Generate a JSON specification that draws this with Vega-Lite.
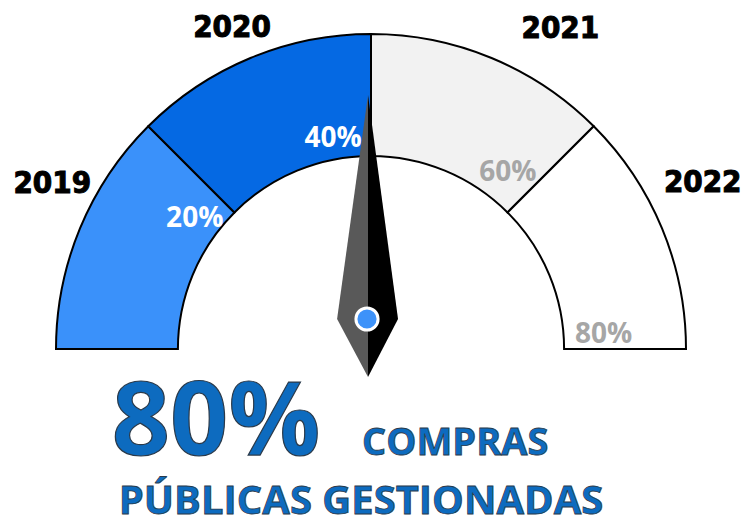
{
  "$schema": "https://vega.github.io/schema/vega-lite/v6.json",
  "width": 745,
  "height": 525,
  "autosize": {"type": "fit", "contains": "padding"},
  "padding": 0,
  "background": "white",
  "config": {"view": {"stroke": null}},
  "datasets": {
    "segments": [
      {"year": "2019", "pct": "20%", "start": 0, "end": 1},
      {"year": "2020", "pct": "40%", "start": 1, "end": 2},
      {"year": "2021", "pct": "60%", "start": 2, "end": 3},
      {"year": "2022", "pct": "80%", "start": 3, "end": 4}
    ],
    "needle": [{"value": 2}],
    "kpi": [{"value": "80%", "line1": "COMPRAS", "line2": "PÚBLICAS GESTIONADAS"}]
  },
  "encoding": {
    "x": {"datum": 0, "type": "quantitative", "scale": {"domain": [-1.1778, 1.1873], "nice": false, "zero": false}, "axis": null},
    "y": {"datum": 0, "type": "quantitative", "scale": {"domain": [-0.5587, 1.1079], "nice": false, "zero": false}, "axis": null}
  },
  "layer": [
    {
      "data": {"name": "segments"},
      "mark": {"type": "arc", "stroke": "black", "strokeWidth": 2},
      "encoding": {
        "theta": {"field": "start", "type": "quantitative", "stack": null, "scale": {"type": "linear", "domain": [0, 4], "range": [-1.5708, 1.5708]}},
        "theta2": {"field": "end"},
        "radius": {"datum": 1, "type": "quantitative", "scale": {"type": "linear", "domain": [0, 1], "range": [0, 315], "zero": true}},
        "radius2": {"datum": 0.613},
        "color": {"field": "year", "type": "nominal", "legend": null, "scale": {"domain": ["2019", "2020", "2021", "2022"], "range": ["#3a91fa", "#0569e3", "#f2f2f2", "#ffffff"]}}
      }
    },
    {
      "data": {"name": "segments"},
      "transform": [{"filter": "datum.year == '2019'"}],
      "mark": {"type": "text", "font": "DejaVu Sans Condensed", "fontWeight": "bold", "fontSize": 31, "fill": "black", "stroke": "black", "strokeWidth": 1, "align": "center", "baseline": "middle", "thetaOffset": 0.478, "radiusOffset": 44},
      "encoding": {"theta": {"field": "start", "type": "quantitative"}, "radius": {"datum": 1, "type": "quantitative"}, "text": {"field": "year"}}
    },
    {
      "data": {"name": "segments"},
      "transform": [{"filter": "datum.year == '2020'"}],
      "mark": {"type": "text", "font": "DejaVu Sans Condensed", "fontWeight": "bold", "fontSize": 31, "fill": "black", "stroke": "black", "strokeWidth": 1, "align": "center", "baseline": "middle", "thetaOffset": 0.377, "radiusOffset": 35},
      "encoding": {"theta": {"field": "start", "type": "quantitative"}, "radius": {"datum": 1, "type": "quantitative"}, "text": {"field": "year"}}
    },
    {
      "data": {"name": "segments"},
      "transform": [{"filter": "datum.year == '2021'"}],
      "mark": {"type": "text", "font": "DejaVu Sans Condensed", "fontWeight": "bold", "fontSize": 31, "fill": "black", "stroke": "black", "strokeWidth": 1, "align": "center", "baseline": "middle", "thetaOffset": 0.534, "radiusOffset": 57},
      "encoding": {"theta": {"field": "start", "type": "quantitative"}, "radius": {"datum": 1, "type": "quantitative"}, "text": {"field": "year"}}
    },
    {
      "data": {"name": "segments"},
      "transform": [{"filter": "datum.year == '2022'"}],
      "mark": {"type": "text", "font": "DejaVu Sans Condensed", "fontWeight": "bold", "fontSize": 31, "fill": "black", "stroke": "black", "strokeWidth": 1, "align": "center", "baseline": "middle", "thetaOffset": 0.321, "radiusOffset": 56},
      "encoding": {"theta": {"field": "start", "type": "quantitative"}, "radius": {"datum": 1, "type": "quantitative"}, "text": {"field": "year"}}
    },
    {
      "data": {"name": "segments"},
      "transform": [{"filter": "datum.year == '2019'"}],
      "mark": {"type": "text", "font": "Open Sans", "fontWeight": "bold", "fontSize": 28, "fill": "white", "align": "center", "baseline": "middle", "thetaOffset": -0.150, "radiusOffset": -96},
      "encoding": {"theta": {"field": "end", "type": "quantitative"}, "radius": {"datum": 1, "type": "quantitative"}, "text": {"field": "pct"}}
    },
    {
      "data": {"name": "segments"},
      "transform": [{"filter": "datum.year == '2020'"}],
      "mark": {"type": "text", "font": "Open Sans", "fontWeight": "bold", "fontSize": 28, "fill": "white", "align": "center", "baseline": "middle", "thetaOffset": -0.179, "radiusOffset": -102},
      "encoding": {"theta": {"field": "end", "type": "quantitative"}, "radius": {"datum": 1, "type": "quantitative"}, "text": {"field": "pct"}}
    },
    {
      "data": {"name": "segments"},
      "transform": [{"filter": "datum.year == '2021'"}],
      "mark": {"type": "text", "font": "Open Sans", "fontWeight": "bold", "fontSize": 28, "fill": "#a6a6a6", "align": "center", "baseline": "middle", "thetaOffset": -0.124, "radiusOffset": -92},
      "encoding": {"theta": {"field": "end", "type": "quantitative"}, "radius": {"datum": 1, "type": "quantitative"}, "text": {"field": "pct"}}
    },
    {
      "data": {"name": "segments"},
      "transform": [{"filter": "datum.year == '2022'"}],
      "mark": {"type": "text", "font": "Open Sans", "fontWeight": "bold", "fontSize": 28, "fill": "#a6a6a6", "align": "center", "baseline": "middle", "thetaOffset": -0.059, "radiusOffset": -82},
      "encoding": {"theta": {"field": "end", "type": "quantitative"}, "radius": {"datum": 1, "type": "quantitative"}, "text": {"field": "pct"}}
    },
    {
      "data": {"name": "needle"},
      "mark": {"type": "point", "shape": "M0,-1L-0.138,0L0,0.259Z", "filled": true, "fill": "#595959", "strokeWidth": 0, "opacity": 1, "size": 200704},
      "encoding": {
        "x": {"datum": -0.0095, "type": "quantitative"},
        "y": {"datum": 0.0952, "type": "quantitative"},
        "angle": {"field": "value", "type": "quantitative", "scale": {"domain": [0, 4], "range": [-90, 90]}}
      }
    },
    {
      "data": {"name": "needle"},
      "mark": {"type": "point", "shape": "M0,-1L0.134,0L0,0.259Z", "filled": true, "fill": "#000000", "strokeWidth": 0, "opacity": 1, "size": 200704},
      "encoding": {
        "x": {"datum": -0.0095, "type": "quantitative"},
        "y": {"datum": 0.0952, "type": "quantitative"},
        "angle": {"field": "value", "type": "quantitative"}
      }
    },
    {
      "data": {"name": "needle"},
      "mark": {"type": "point", "shape": "circle", "filled": true, "fill": "#3d92f9", "stroke": "white", "strokeWidth": 3, "opacity": 1, "size": 491},
      "encoding": {
        "x": {"datum": -0.0127, "type": "quantitative"},
        "y": {"datum": 0.0952, "type": "quantitative"}
      }
    },
    {
      "data": {"name": "kpi"},
      "mark": {"type": "text", "font": "Open Sans", "fontWeight": "bold", "fontSize": 102, "fill": "#0d6bbf", "stroke": "#2b3a4a", "strokeWidth": 1.2, "align": "center", "baseline": "alphabetic"},
      "encoding": {
        "x": {"datum": -0.492, "type": "quantitative"},
        "y": {"datum": -0.3365, "type": "quantitative"},
        "text": {"field": "value"}
      }
    },
    {
      "data": {"name": "kpi"},
      "mark": {"type": "text", "font": "Open Sans", "fontWeight": "bold", "fontSize": 38, "fill": "#0d6bbf", "stroke": "#2b3a4a", "strokeWidth": 0.8, "align": "left", "baseline": "alphabetic"},
      "encoding": {
        "x": {"datum": -0.0286, "type": "quantitative"},
        "y": {"datum": -0.3365, "type": "quantitative"},
        "text": {"field": "line1"}
      }
    },
    {
      "data": {"name": "kpi"},
      "mark": {"type": "text", "font": "Open Sans", "fontWeight": "bold", "fontSize": 40, "fill": "#0d6bbf", "stroke": "#2b3a4a", "strokeWidth": 0.8, "align": "center", "baseline": "alphabetic"},
      "encoding": {
        "x": {"datum": -0.0317, "type": "quantitative"},
        "y": {"datum": -0.524, "type": "quantitative"},
        "text": {"field": "line2"}
      }
    }
  ]
}
